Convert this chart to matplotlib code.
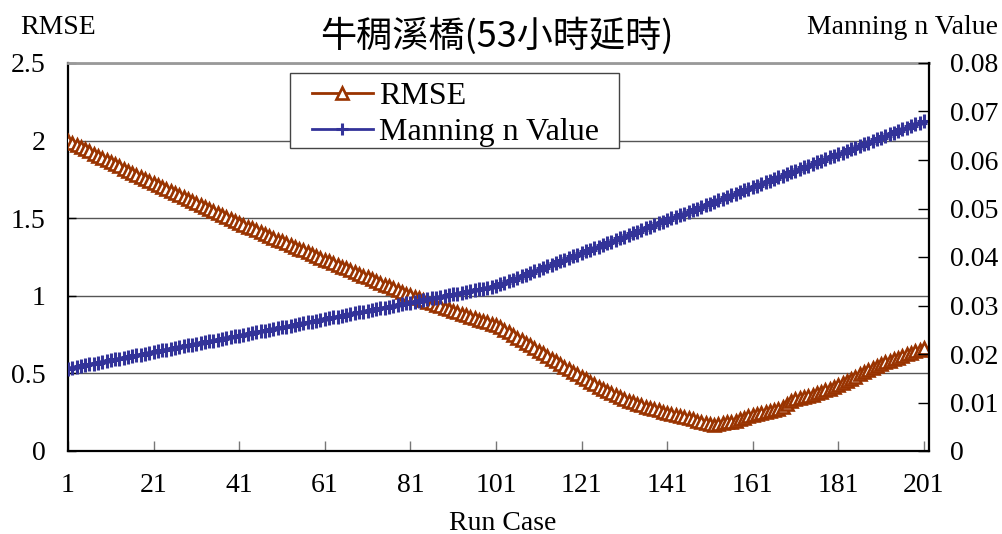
import matplotlib
matplotlib.use('Agg')
import matplotlib.pyplot as plt
from matplotlib.ticker import FuncFormatter
from matplotlib.patches import Rectangle

# run cases 1..201
case = list(range(1, 202))
xtick_cases = [1, 21, 41, 61, 81, 101, 121, 141, 161, 181, 201]

rmse = [
    2.000, 1.986, 1.972, 1.958, 1.944, 1.930, 1.916, 1.902, 1.888, 1.874,
    1.860, 1.847, 1.834, 1.820, 1.807, 1.794, 1.781, 1.768, 1.754, 1.741,
    1.728, 1.715, 1.702, 1.690, 1.677, 1.664, 1.651, 1.638, 1.626, 1.613,
    1.600, 1.587, 1.574, 1.561, 1.548, 1.535, 1.522, 1.509, 1.496, 1.483,
    1.470, 1.458, 1.446, 1.434, 1.422, 1.410, 1.398, 1.386, 1.374, 1.362,
    1.350, 1.338, 1.327, 1.315, 1.303, 1.292, 1.280, 1.268, 1.257, 1.245,
    1.233, 1.222, 1.210, 1.199, 1.187, 1.176, 1.164, 1.153, 1.141, 1.130,
    1.118, 1.106, 1.095, 1.083, 1.072, 1.060, 1.049, 1.037, 1.026, 1.014,
    1.003, 0.993, 0.983, 0.973, 0.963, 0.953, 0.943, 0.933, 0.923, 0.913,
    0.903, 0.894, 0.884, 0.875, 0.866, 0.857, 0.847, 0.838, 0.829, 0.819,
    0.810, 0.796, 0.781, 0.765, 0.748, 0.731, 0.714, 0.697, 0.680, 0.663,
    0.646, 0.629, 0.612, 0.595, 0.578, 0.561, 0.544, 0.527, 0.510, 0.493,
    0.477, 0.461, 0.445, 0.429, 0.414, 0.399, 0.385, 0.371, 0.358, 0.346,
    0.334, 0.323, 0.313, 0.303, 0.294, 0.285, 0.277, 0.269, 0.261, 0.254,
    0.247, 0.240, 0.233, 0.226, 0.219, 0.211, 0.203, 0.195, 0.187, 0.179,
    0.173, 0.170, 0.173, 0.178, 0.184, 0.190, 0.196, 0.203, 0.212, 0.225,
    0.235, 0.240, 0.246, 0.252, 0.258, 0.265, 0.272, 0.282, 0.300, 0.325,
    0.335, 0.343, 0.350, 0.357, 0.364, 0.372, 0.380, 0.390, 0.400, 0.412,
    0.424, 0.436, 0.448, 0.462, 0.478, 0.494, 0.508, 0.522, 0.536, 0.548,
    0.560, 0.571, 0.582, 0.592, 0.602, 0.612, 0.622, 0.632, 0.642, 0.652,
    0.662,
]

manning_n = [
    0.01700, 0.01717, 0.01734, 0.01751, 0.01768, 0.01785, 0.01802, 0.01819, 0.01836, 0.01853,
    0.01870, 0.01887, 0.01904, 0.01921, 0.01938, 0.01955, 0.01972, 0.01989, 0.02006, 0.02023,
    0.02040, 0.02057, 0.02074, 0.02091, 0.02108, 0.02125, 0.02142, 0.02159, 0.02176, 0.02193,
    0.02210, 0.02227, 0.02244, 0.02261, 0.02278, 0.02295, 0.02312, 0.02329, 0.02346, 0.02363,
    0.02380, 0.02397, 0.02414, 0.02431, 0.02448, 0.02465, 0.02482, 0.02499, 0.02516, 0.02533,
    0.02550, 0.02567, 0.02584, 0.02601, 0.02618, 0.02635, 0.02652, 0.02669, 0.02686, 0.02703,
    0.02720, 0.02737, 0.02754, 0.02771, 0.02788, 0.02805, 0.02822, 0.02839, 0.02856, 0.02873,
    0.02890, 0.02907, 0.02924, 0.02941, 0.02958, 0.02975, 0.02992, 0.03009, 0.03026, 0.03043,
    0.03060, 0.03077, 0.03094, 0.03111, 0.03128, 0.03145, 0.03162, 0.03179, 0.03196, 0.03213,
    0.03230, 0.03247, 0.03264, 0.03281, 0.03298, 0.03315, 0.03332, 0.03349, 0.03366, 0.03383,
    0.03400, 0.03434, 0.03468, 0.03502, 0.03536, 0.03570, 0.03604, 0.03638, 0.03672, 0.03706,
    0.03740, 0.03774, 0.03808, 0.03842, 0.03876, 0.03910, 0.03944, 0.03978, 0.04012, 0.04046,
    0.04080, 0.04114, 0.04148, 0.04182, 0.04216, 0.04250, 0.04284, 0.04318, 0.04352, 0.04386,
    0.04420, 0.04454, 0.04488, 0.04522, 0.04556, 0.04590, 0.04624, 0.04658, 0.04692, 0.04726,
    0.04760, 0.04794, 0.04828, 0.04862, 0.04896, 0.04930, 0.04964, 0.04998, 0.05032, 0.05066,
    0.05100, 0.05134, 0.05168, 0.05202, 0.05236, 0.05270, 0.05304, 0.05338, 0.05372, 0.05406,
    0.05440, 0.05474, 0.05508, 0.05542, 0.05576, 0.05610, 0.05644, 0.05678, 0.05712, 0.05746,
    0.05780, 0.05814, 0.05848, 0.05882, 0.05916, 0.05950, 0.05984, 0.06018, 0.06052, 0.06086,
    0.06120, 0.06154, 0.06188, 0.06222, 0.06256, 0.06290, 0.06324, 0.06358, 0.06392, 0.06426,
    0.06460, 0.06494, 0.06528, 0.06562, 0.06596, 0.06630, 0.06664, 0.06698, 0.06732, 0.06766,
    0.06800,
]

rmse_ticks = [0, 0.5, 1, 1.5, 2, 2.5]
n_ticks = [0, 0.01, 0.02, 0.03, 0.04, 0.05, 0.06, 0.07, 0.08]

plt.rcParams['font.family'] = ['Liberation Serif', 'DejaVu Serif']
cjk = ['Noto Sans CJK TC', 'DejaVu Sans']

fig = plt.figure(figsize=(10.02, 5.34), dpi=100)
ax1 = fig.add_axes([68/1002, 83/534, 861/1002, 388/534])

ax1.plot(case, rmse, color='#993300', lw=2.2, marker='^', ms=9,
         mfc='white', mec='#993300', mew=1.9, label='RMSE', zorder=3)
ax1.set_xlim(1, 202.2)
ax1.set_ylim(0, 2.5)
ax1.set_yticks(rmse_ticks)
ax1.yaxis.set_major_formatter(FuncFormatter(lambda v, _: f'{v:g}'))
ax1.set_xticks(xtick_cases)
ax1.grid(axis='y', color='#555555', lw=1)
ax1.set_axisbelow(True)
ax1.tick_params(axis='x', direction='in', length=7, width=1, color='#777777',
                labelsize=20, pad=16)
ax1.tick_params(axis='y', direction='in', length=6, width=1, labelsize=20, pad=16)
for side in ['left', 'bottom']:
    ax1.spines[side].set_linewidth(1.6)
ax1.spines['top'].set_color('#999999')
ax1.spines['top'].set_linewidth(2)
ax1.spines['right'].set_visible(False)

ax2 = ax1.twinx()
ax2.plot(case, manning_n, color='#333399', lw=2.2, marker='+', ms=10, mew=2.2,
         label='Manning n Value')
ax2.set_ylim(0, 0.08)
ax2.set_yticks(n_ticks)
ax2.yaxis.set_major_formatter(FuncFormatter(lambda v, _: '0' if v == 0 else f'{v:.2f}'))
ax2.tick_params(axis='y', direction='in', length=8, width=1, labelsize=20, pad=15)
for side in ['left', 'top', 'bottom']:
    ax2.spines[side].set_visible(False)
ax2.spines['right'].set_linewidth(1.6)

# legend box drawn separately to match the original frame
ax2.add_patch(Rectangle((0.2578, 0.781), 0.3821, 0.1933, transform=ax2.transAxes,
                        facecolor='white', edgecolor='#444444', lw=1, zorder=4))
h1, l1 = ax1.get_legend_handles_labels()
h2, l2 = ax2.get_legend_handles_labels()
leg = ax2.legend(h1 + h2, l1 + l2, loc='upper left', bbox_to_anchor=(0.2834, 0.952),
                 borderaxespad=0, borderpad=0, fontsize=23, frameon=False,
                 handlelength=1.9, handletextpad=0.2, labelspacing=0.22)
leg.set_zorder(5)
for line in leg.get_lines():
    line.set_markersize(8)
    line.set_linewidth(2)

fig.text(20/1002, 1 - 27/534, 'RMSE', fontsize=20, ha='left', va='center')
fig.text(998/1002, 1 - 27/534, 'Manning n Value', fontsize=20, ha='right', va='center')
fig.text(497/1002, 1 - 36/534, '牛稠溪橋(53小時延時)', fontsize=26, family=cjk,
         ha='center', va='center')
fig.text(503/1002, 1 - 523/534, 'Run Case', fontsize=20, ha='center', va='center')

fig.savefig('out.png', dpi=100)
